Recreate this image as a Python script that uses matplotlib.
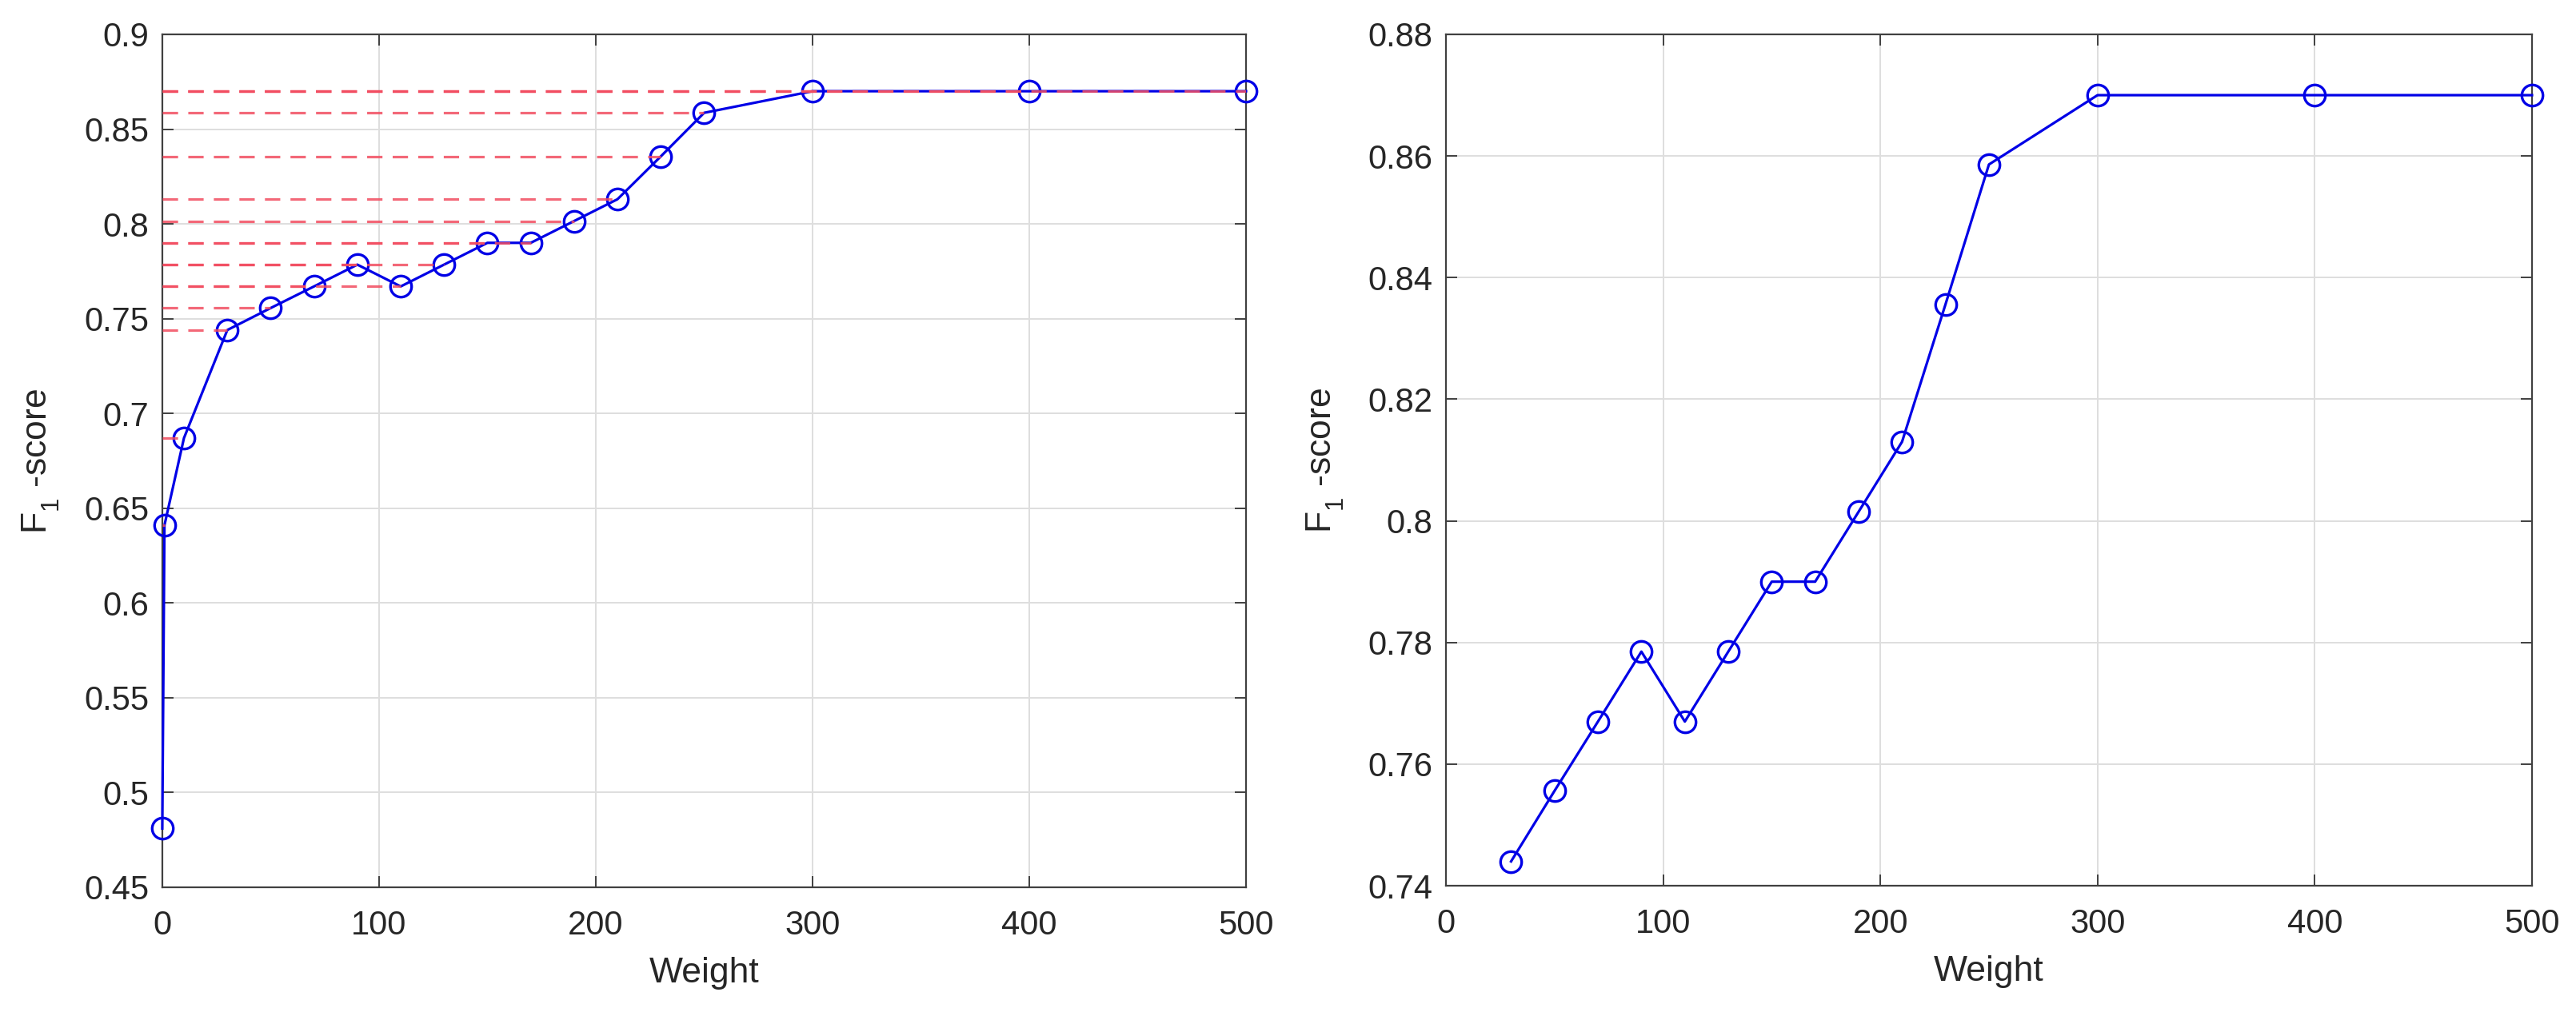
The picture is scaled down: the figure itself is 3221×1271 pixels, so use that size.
import numpy as np
import matplotlib
matplotlib.use('Agg')
import matplotlib.pyplot as plt

# subíndice un poco más bajo, como en MATLAB
try:
    import matplotlib._mathtext as _mt
    for _c in [_mt.FontConstantsBase] + _mt.FontConstantsBase.__subclasses__():
        _c.sub1 = 0.7
        _c.sub2 = 0.9
except Exception:
    pass

# --- datos ---
weight_all = [0, 1, 10, 30, 50, 70, 90, 110, 130, 150, 170, 190, 210, 230, 250, 300, 400, 500]
f1_all = [0.481, 0.641, 0.687, 0.744, 0.7556, 0.767, 0.7785, 0.767, 0.7785, 0.790, 0.790,
          0.8015, 0.813, 0.8356, 0.8586, 0.870, 0.870, 0.870]

weight_zoom = [30, 50, 70, 90, 110, 130, 150, 170, 190, 210, 230, 250, 300, 400, 500]
f1_zoom = [0.744, 0.7556, 0.767, 0.7785, 0.767, 0.7785, 0.790, 0.790,
           0.8015, 0.813, 0.8356, 0.8586, 0.870, 0.870, 0.870]

left_yticks = [0.45, 0.5, 0.55, 0.6, 0.65, 0.7, 0.75, 0.8, 0.85, 0.9]
left_ylabels = ['0.45', '0.5', '0.55', '0.6', '0.65', '0.7', '0.75', '0.8', '0.85', '0.9']
right_yticks = [0.74, 0.76, 0.78, 0.8, 0.82, 0.84, 0.86, 0.88]
right_ylabels = ['0.74', '0.76', '0.78', '0.8', '0.82', '0.84', '0.86', '0.88']
xticks = [0, 100, 200, 300, 400, 500]

plt.rcParams['font.family'] = ['Liberation Sans', 'DejaVu Sans']
plt.rcParams['mathtext.default'] = 'regular'

fig = plt.figure(figsize=(32.21, 12.71), dpi=100)
ax1 = fig.add_axes([0.063, 0.1267, 0.4207, 0.8395])
ax2 = fig.add_axes([0.5613, 0.1282, 0.4216, 0.838])

axis_col = '#404040'
line_col = '#0000e6'


def style(ax):
    ax.grid(True, color='#dedede', linewidth=1.4)
    ax.set_axisbelow(True)
    for s in ax.spines.values():
        s.set_color(axis_col)
        s.set_linewidth(1.6)
    ax.tick_params(direction='in', length=10, width=1.4, colors=axis_col,
                   labelcolor='#262626', labelsize=30, top=True, right=True)
    ax.tick_params(axis='x', pad=20)
    ax.tick_params(axis='y', pad=12)
    ax.set_xlabel('Weight', fontsize=32, color='#262626', labelpad=14)
    ax.set_ylabel('F$_1$ -score', fontsize=32, color='#262626', labelpad=20)


# --- izquierda ---
ax1.plot(weight_all, f1_all, '-o', color=line_col, linewidth=2.3, markersize=19,
         markerfacecolor='none', markeredgewidth=2.4, zorder=3, clip_on=False)
for w, f in zip(weight_all, f1_all):
    ax1.plot([0, w], [f, f], '--', color=(0.95, 0.3, 0.38), alpha=0.85,
             linewidth=2.3, dashes=(6, 4), zorder=4)
ax1.set_xlim(0, 500)
ax1.set_ylim(0.45, 0.9)
ax1.set_xticks(xticks)
ax1.set_yticks(left_yticks)
ax1.set_yticklabels(left_ylabels)
style(ax1)

# --- derecha ---
ax2.plot(weight_zoom, f1_zoom, '-o', color=line_col, linewidth=2.3, markersize=19,
         markerfacecolor='none', markeredgewidth=2.4, zorder=3, clip_on=False)
ax2.set_xlim(0, 500)
ax2.set_ylim(0.74, 0.88)
ax2.set_xticks(xticks)
ax2.set_yticks(right_yticks)
ax2.set_yticklabels(right_ylabels)
style(ax2)

plt.savefig('out.png', dpi=100)
